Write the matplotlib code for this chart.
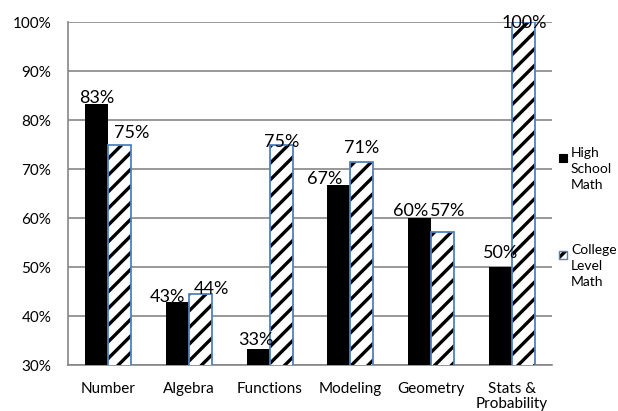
import matplotlib
matplotlib.use("Agg")
import matplotlib.pyplot as plt
from matplotlib.patches import Rectangle
import numpy as np

categories = ["Number", "Algebra", "Functions", "Modeling", "Geometry", "Stats &\nProbability"]
high_school = [83.3, 42.9, 33.3, 66.7, 60.0, 50.0]
college = [75.0, 44.4, 75.0, 71.4, 57.1, 100.0]
series_names = ["High\nSchool\nMath", "College\nLevel\nMath"]
yticks = [30, 40, 50, 60, 70, 80, 90, 100]

# label placement nudges (pixels) mimicking Excel's label layout
hs_dx = [0, -10, -2, -14, -9, 0]
hs_dy = [1, 0, 4, 1, 2, 9]
co_dx = [12, 11, 1, 0, 5, 1]
co_dy = [7, 0, -2, 9, 16, -6]

plt.rcParams['font.family'] = ['Lato', 'DejaVu Sans']
plt.rcParams['hatch.linewidth'] = 2.4

fig = plt.figure(figsize=(6.18, 4.11), dpi=100)
ax = fig.add_axes([68/618, 46/411, (552-68)/618, (365-22)/411])

x = np.arange(len(categories))
w = 0.285
grid_c = '#868686'
blue = '#4F81BD'
px = 0.72  # points per pixel at 100 dpi

ax.bar(x - w/2, high_school, w, color='black', zorder=3)
ax.bar(x + w/2, college, w, color='white', edgecolor='black', hatch='//', linewidth=0, zorder=3)
ax.bar(x + w/2, college, w, fill=False, edgecolor=blue, linewidth=1.3, zorder=4)

for xi, v, dx, dy in zip(x - w/2, high_school, hs_dx, hs_dy):
    ax.annotate(f"{round(v)}%", (xi, v), xytext=(dx*px, dy*px), textcoords='offset points',
                ha='center', va='baseline', fontsize=13, zorder=5, annotation_clip=False)
for xi, v, dx, dy in zip(x + w/2, college, co_dx, co_dy):
    ax.annotate(f"{round(v)}%", (xi, v), xytext=(dx*px, dy*px), textcoords='offset points',
                ha='center', va='baseline', fontsize=13, zorder=5, annotation_clip=False)

ax.set_xlim(-0.5, len(categories) - 0.5)
ax.set_ylim(30, 100)
ax.set_yticks(yticks)
ax.set_yticklabels([f"{t}%" for t in yticks])
ax.set_xticks(x)
ax.set_xticklabels(categories, linespacing=1.15)
ax.tick_params(axis='both', length=0, labelsize=11, colors='black')
ax.tick_params(axis='y', pad=12)
ax.tick_params(axis='x', pad=12)
ax.yaxis.grid(True, color=grid_c, linewidth=1.2, zorder=0)
ax.set_axisbelow(True)
for s in ['top', 'right']:
    ax.spines[s].set_visible(False)
for s in ['left', 'bottom']:
    ax.spines[s].set_color(grid_c)
    ax.spines[s].set_linewidth(1.2)

def fx(p):
    return p / 618
def fy(p):
    return 1 - p / 411

fig.add_artist(Rectangle((fx(559), fy(162)), 8/618, 8/411, transform=fig.transFigure,
                         facecolor='black', edgecolor='black', linewidth=0.8))
fig.text(fx(571), fy(147), series_names[0], ha='left', va='top', fontsize=10, linespacing=1.4)
fig.add_artist(Rectangle((fx(559), fy(259)), 8/618, 8/411, transform=fig.transFigure,
                         facecolor='white', edgecolor='black', linewidth=0, hatch='//'))
fig.add_artist(Rectangle((fx(559), fy(259)), 8/618, 8/411, transform=fig.transFigure,
                         fill=False, edgecolor=blue, linewidth=1.0))
fig.text(fx(571), fy(244), series_names[1], ha='left', va='top', fontsize=10, linespacing=1.4)

fig.savefig("out.png", dpi=100)
